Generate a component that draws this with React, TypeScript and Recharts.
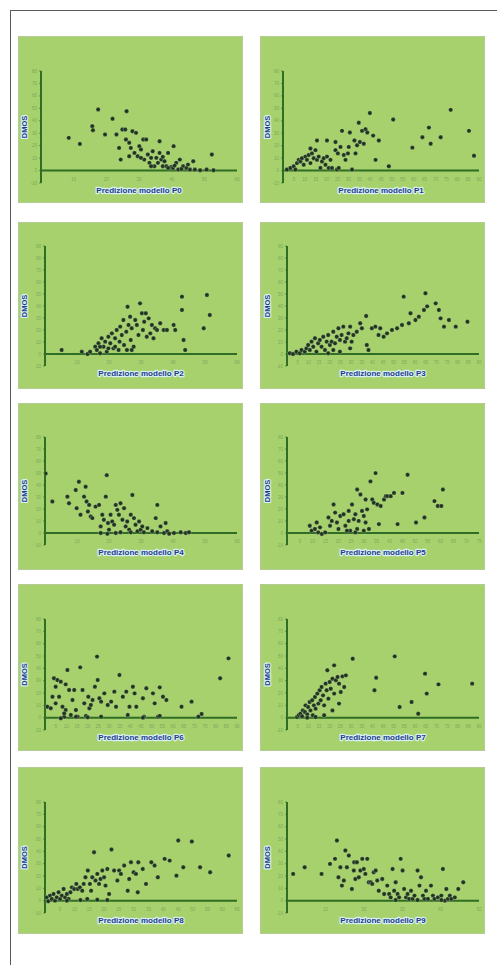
import React from 'react';
import { ScatterChart, Scatter, XAxis, YAxis, ReferenceLine } from 'recharts';

type Pt = [number, number];

// ---------- data (x = model prediction, y = DMOS) ----------
const p0Points: Pt[] = [
  [8.5, 26.3], [11.9, 21.4], [15.7, 35.7], [15.9, 32.4], [17.5, 49.1], [19.6, 29.0], [21.9, 41.6], [23.1, 29.0],
  [23.9, 18.2], [24.4, 8.8], [24.9, 33.0], [25.8, 33.0], [26.2, 47.7], [26.0, 24.9], [27.0, 22.3], [27.5, 18.2],
  [28.0, 31.6], [29.1, 30.3], [28.6, 14.2], [29.6, 11.5], [30.1, 19.6], [30.6, 16.9], [31.3, 24.9], [32.2, 24.9],
  [31.6, 8.8], [32.7, 12.9], [33.2, 6.2], [33.7, 10.2], [34.2, 15.5], [34.7, 3.5], [35.3, 10.2], [36.3, 23.6],
  [36.3, 14.2], [36.8, 8.8], [37.3, 3.5], [37.8, 7.5], [38.4, 3.5], [38.9, 14.2], [39.4, 2.1], [39.9, 2.9],
  [40.4, 2.1], [40.6, 19.6], [41.4, 6.2], [42.0, 0.8], [42.5, 8.8], [43.5, 3.5], [44.5, 2.1], [45.6, 0.8],
  [46.6, 7.5], [47.1, 0.8], [48.7, 0.3], [50.7, 0.8], [52.3, 12.9], [52.8, 0.3], [38.9, 2.1], [40.9, 4.0],
  [43.0, 1.3], [33.7, 3.5], [35.8, 6.2], [30.6, 10.2], [27.0, 11.5], [37.3, 11.0], [45.0, 4.8],
];

const p1Points: Pt[] = [
  [1.8, 0.8], [3.4, 2.1], [4.9, 3.4], [5.7, 0.8], [6.4, 6.0], [7.2, 8.6], [8.0, 7.3], [8.7, 9.9], [9.5, 4.7],
  [10.3, 11.2], [11.0, 8.6], [11.8, 12.5], [12.6, 6.0], [13.3, 13.8], [14.1, 9.9], [14.9, 16.4], [15.6, 8.6],
  [16.4, 11.2], [17.2, 2.1], [17.9, 7.3], [18.7, 9.9], [19.5, 4.7], [20.2, 11.2], [21.0, 2.1], [21.8, 8.6],
  [22.5, 2.1], [24.1, 22.9], [24.1, 16.4], [24.8, 0.8], [25.2, 13.8], [25.6, 2.1], [26.4, 19.0], [27.1, 31.9],
  [27.9, 12.5], [28.7, 8.6], [29.8, 13.8], [30.2, 19.0], [30.7, 30.6], [31.7, 0.8], [32.8, 24.2], [33.3, 13.8],
  [34.0, 20.3], [34.8, 38.4], [35.3, 22.9], [36.3, 31.9], [37.1, 21.6], [37.9, 33.2], [38.7, 30.6], [39.9, 46.2],
  [41.4, 28.1], [42.5, 8.6], [44.0, 24.2], [48.6, 3.4], [50.6, 41.0], [59.4, 18.4], [64.0, 26.8], [67.0, 34.5],
  [67.8, 21.6], [72.4, 26.8], [77.0, 48.8], [85.4, 31.9], [87.7, 11.9], [12.6, 17.7], [15.6, 24.2], [20.2, 24.2],
];

const p2Points: Pt[] = [
  [5.2, 3.3], [11.5, 1.9], [13.3, 0.0], [14.1, 1.9], [15.7, 6.1], [16.2, 3.3], [16.7, 8.9], [17.2, 0.6],
  [17.7, 13.1], [18.3, 6.1], [18.8, 10.3], [19.3, 1.9], [19.8, 14.4], [20.4, 8.9], [20.9, 17.2], [21.4, 4.7],
  [21.9, 13.1], [22.4, 20.0], [23.0, 3.3], [23.3, 10.3], [23.5, 22.8], [24.0, 15.8], [24.5, 28.3], [24.7, 7.5],
  [25.4, 18.6], [25.8, 39.4], [26.1, 24.2], [26.6, 31.1], [26.8, 11.7], [27.1, 21.4], [27.7, 6.1], [28.2, 28.3],
  [28.7, 24.2], [29.2, 15.8], [29.7, 42.2], [30.3, 33.9], [30.6, 20.0], [31.0, 26.9], [31.5, 33.9], [31.8, 14.4],
  [32.4, 29.7], [32.9, 17.2], [33.4, 24.2], [33.9, 13.1], [34.4, 21.4], [35.0, 20.0], [36.0, 25.6], [37.1, 20.0],
  [38.1, 20.0], [40.2, 24.2], [40.7, 20.0], [42.8, 47.8], [42.8, 36.7], [43.3, 11.7], [43.8, 3.3], [49.6, 21.4],
  [50.6, 49.2], [51.5, 32.5], [21.9, 6.1], [19.8, 4.7], [17.2, 6.1], [25.6, 3.3], [27.1, 3.3],
];

const p3Points: Pt[] = [
  [1.3, 0.6], [2.8, 0.0], [4.4, 1.9], [6.0, 0.6], [6.8, 3.3], [8.3, 1.9], [9.1, 4.7], [9.9, 7.5], [10.7, 3.3],
  [11.5, 10.3], [12.3, 6.1], [13.1, 13.1], [13.8, 1.9], [14.6, 8.9], [15.4, 11.7], [16.2, 6.1], [17.0, 14.4],
  [17.8, 3.3], [18.6, 10.3], [19.3, 15.8], [20.1, 7.5], [20.9, 10.3], [21.7, 18.6], [22.5, 8.9], [23.3, 14.4],
  [24.1, 21.4], [24.8, 11.7], [25.6, 15.8], [26.4, 22.8], [27.2, 10.3], [28.0, 13.1], [28.8, 17.2], [29.6, 22.8],
  [30.3, 10.3], [31.1, 15.8], [32.7, 18.6], [34.3, 25.6], [35.1, 21.4], [37.1, 31.7], [37.4, 7.5], [38.2, 3.3],
  [39.8, 21.4], [41.4, 22.8], [42.9, 15.8], [43.7, 21.4], [45.3, 14.4], [46.9, 17.2], [49.2, 20.0], [51.6, 21.4],
  [53.9, 24.2], [54.7, 47.8], [57.1, 25.6], [57.9, 33.9], [60.2, 28.3], [61.8, 31.1], [64.2, 36.7], [64.9, 50.6],
  [65.7, 39.7], [69.7, 42.2], [71.2, 36.7], [72.0, 29.7], [73.6, 22.8], [75.9, 28.3], [79.1, 22.8], [84.6, 26.9],
  [21.7, 3.3], [24.8, 1.9], [19.3, 0.6], [29.6, 4.7],
];

const p4Points: Pt[] = [
  [0.2, 49.6], [2.3, 26.2], [7.0, 30.3], [7.5, 24.8], [9.6, 35.8], [9.9, 20.7], [10.6, 42.7], [11.1, 15.2],
  [12.2, 30.3], [12.7, 38.6], [13.0, 26.2], [13.4, 17.9], [13.8, 23.4], [14.3, 13.8], [14.8, 12.4], [15.8, 22.0],
  [16.9, 23.4], [17.4, 5.5], [17.9, 15.2], [18.4, 11.0], [19.0, 30.3], [19.3, 48.2], [19.7, 8.3], [20.0, 2.8],
  [20.5, 15.2], [21.0, 9.6], [21.6, 6.9], [22.1, 23.4], [22.6, 19.3], [23.1, 15.2], [23.6, 24.8], [24.2, 11.0],
  [24.7, 20.7], [25.2, 5.5], [25.7, 9.6], [26.3, 2.8], [26.8, 15.2], [27.3, 31.7], [27.8, 12.4], [28.3, 6.9],
  [28.9, 1.4], [29.4, 9.6], [29.9, 2.8], [30.4, 5.5], [30.9, 0.6], [32.0, 4.1], [33.5, 1.4], [34.6, 12.4],
  [35.1, 23.4], [36.1, 5.5], [37.2, 0.0], [37.7, 8.3], [38.2, 1.4], [38.8, -0.6], [40.3, 0.0], [42.4, 0.6],
  [44.0, 0.0], [45.0, 0.6], [17.4, 0.0], [19.5, -0.6], [22.1, 0.0], [23.6, 0.6], [26.8, 0.6], [35.1, 0.6],
];

const p5Points: Pt[] = [
  [8.9, 6.0], [9.6, 1.9], [10.9, 3.3], [11.6, 8.8], [12.2, 0.5], [12.9, 4.7], [13.6, -0.8], [14.9, 0.5],
  [16.2, 12.9], [16.8, 6.0], [17.5, 10.1], [18.2, 23.8], [18.8, 17.0], [19.5, 8.8], [20.1, 3.3], [20.8, 14.2],
  [22.1, 15.6], [22.8, 6.0], [24.1, 10.1], [24.7, 1.9], [25.4, 23.8], [26.1, 11.5], [26.7, 15.6], [27.4, 3.3],
  [28.0, 10.1], [28.7, 32.1], [29.3, 18.4], [30.0, 14.2], [30.7, 8.8], [31.3, 19.7], [32.0, 3.3], [32.6, 43.0],
  [33.3, 27.9], [33.9, 25.2], [34.6, 49.9], [35.3, 23.8], [35.9, 7.4], [36.6, 22.5], [37.9, 27.9], [38.6, 30.7],
  [39.2, 30.7], [40.5, 30.7], [41.8, 33.4], [43.2, 7.4], [45.1, 33.4], [47.1, 48.5], [50.4, 8.8], [53.7, 12.9],
  [57.6, 26.6], [58.9, 22.5], [60.3, 22.5], [60.9, 36.2], [27.4, 36.2], [30.7, 27.9], [24.1, 18.4], [23.4, 1.9],
  [26.7, 0.5], [30.0, 1.9],
];

const p6Points: Pt[] = [
  [1.1, 8.9], [2.7, 7.6], [3.5, 17.0], [4.2, 31.9], [5.0, 25.1], [5.0, 11.6], [5.8, 30.5], [6.6, 17.0],
  [7.4, 29.2], [8.2, 8.9], [9.0, 0.8], [9.7, 6.2], [9.7, 27.0], [10.5, 38.6], [11.3, 22.4], [12.1, 2.2],
  [12.9, 14.3], [13.7, 22.4], [14.5, 6.2], [15.3, 0.8], [16.5, 40.8], [17.6, 22.4], [18.4, 11.6], [19.2, 1.4],
  [20.3, 17.0], [20.8, 7.6], [21.5, 10.3], [22.3, 14.3], [23.4, 25.1], [24.4, 49.5], [24.7, 30.5], [25.5, 15.7],
  [26.3, 13.0], [27.8, 19.7], [29.4, 10.3], [31.0, 13.0], [32.5, 21.1], [33.3, 8.9], [34.9, 34.6], [36.5, 17.0],
  [38.1, 21.1], [38.8, 2.2], [39.6, 8.9], [41.2, 25.1], [42.0, 19.7], [42.8, 8.9], [45.9, 15.7], [46.4, 0.8],
  [47.5, 23.8], [50.6, 19.7], [51.4, 11.6], [53.0, 0.8], [53.8, 24.6], [55.3, 17.0], [56.9, 14.3], [64.0, 8.9],
  [68.7, 13.0], [73.4, 3.0], [82.1, 31.9], [86.0, 48.1], [9.0, 3.5], [7.4, -0.5], [14.5, 0.8], [20.0, 0.3],
  [26.3, 0.8], [45.9, 0.0], [53.8, 1.4], [71.9, 0.8],
];

const p7Points: Pt[] = [
  [4.7, 0.5], [5.5, 1.9], [6.3, 3.2], [7.1, 1.1], [7.4, 5.9], [8.4, 4.6], [8.7, 10.0], [9.5, 2.7], [9.9, 8.6],
  [10.6, 12.7], [11.0, 5.9], [11.8, 14.1], [12.1, 1.9], [12.6, 10.0], [13.1, 16.8], [13.4, 7.3], [14.2, 19.5],
  [14.7, 11.4], [15.3, 22.2], [15.8, 14.1], [16.2, 24.9], [16.9, 18.1], [17.4, 10.0], [18.1, 27.6], [18.6, 22.2],
  [18.9, 38.4], [19.4, 15.4], [20.0, 28.9], [20.5, 23.5], [21.3, 31.6], [22.1, 19.5], [22.9, 30.3], [23.7, 33.0],
  [24.4, 27.6], [25.2, 20.8], [26.0, 33.5], [26.8, 24.9], [27.6, 34.3], [24.4, 11.4], [22.1, 42.4], [30.8, 47.8],
  [41.0, 22.2], [41.8, 32.4], [50.5, 49.7], [52.8, 8.6], [58.4, 12.7], [61.5, 3.2], [64.7, 35.7], [65.5, 19.5],
  [71.0, 27.0], [86.8, 27.6], [9.5, 0.0], [13.4, 0.5], [17.4, 1.9], [21.3, 5.9],
];

const p8Points: Pt[] = [
  [0.6, 2.7], [1.1, -0.5], [1.7, 4.1], [2.3, 1.4], [2.9, 5.4], [3.4, 0.0], [4.0, 2.7], [4.6, 6.8], [5.1, 1.4],
  [5.7, 4.1], [6.3, 9.5], [6.8, 2.7], [7.4, 5.4], [8.0, 1.4], [8.6, 6.8], [9.1, 10.8], [9.9, 9.5], [10.6, 13.6],
  [11.1, 9.5], [11.8, 10.8], [12.6, 8.1], [13.1, 13.6], [13.7, 19.0], [14.5, 24.4], [15.2, 13.6], [15.6, 8.1],
  [16.0, 19.0], [16.6, 39.3], [17.1, 16.3], [17.7, 21.7], [18.3, 13.6], [18.8, 17.6], [19.4, 24.4], [20.0, 19.0],
  [20.5, 12.2], [21.1, 25.7], [21.7, 5.4], [22.5, 41.5], [23.4, 24.4], [24.5, 16.3], [25.1, 24.4], [25.7, 21.7],
  [26.8, 28.5], [28.0, 8.1], [28.5, 17.6], [29.1, 31.2], [30.0, 23.0], [30.8, 21.7], [31.4, 6.8], [31.6, 31.2],
  [33.1, 25.7], [34.2, 13.6], [36.0, 31.2], [37.1, 28.5], [38.2, 19.0], [40.5, 33.9], [42.2, 32.5], [44.5, 20.3],
  [45.1, 48.8], [46.8, 27.1], [49.7, 48.0], [52.5, 27.1], [55.9, 23.0], [62.2, 36.6], [7.4, 0.0], [12.0, 0.5],
  [14.3, 1.4], [17.7, 0.8], [21.1, 0.5],
];

const p9Points: Pt[] = [
  [1.6, 21.7], [4.6, 27.1], [9.0, 21.7], [11.2, 29.8], [12.5, 33.9], [13.0, 48.8], [13.4, 19.0], [13.9, 27.1],
  [14.3, 12.2], [14.8, 16.3], [15.2, 40.7], [15.6, 27.1], [16.1, 36.6], [16.9, 9.5], [17.4, 24.4], [17.5, 31.2],
  [17.8, 17.6], [18.2, 31.2], [18.7, 19.0], [19.1, 24.4], [19.6, 33.9], [20.0, 25.7], [20.4, 21.7], [20.9, 33.9],
  [21.3, 14.9], [21.8, 14.9], [22.2, 13.6], [22.6, 23.0], [23.1, 24.4], [23.5, 16.3], [23.9, 8.1], [24.8, 17.6],
  [25.3, 5.4], [26.1, 12.2], [26.6, 5.4], [27.5, 25.7], [27.9, 8.1], [28.3, 14.9], [28.8, 5.4], [29.2, 2.7],
  [29.6, 33.9], [30.1, 24.4], [30.5, 9.5], [31.0, 2.7], [31.4, 5.4], [31.8, 1.4], [32.3, 8.1], [32.7, 1.4],
  [33.2, 4.1], [34.0, 24.4], [34.5, 12.2], [34.9, 19.0], [35.4, 4.1], [35.8, 1.4], [36.2, 8.1], [36.7, 1.4],
  [37.5, 12.2], [38.0, 4.1], [38.4, 1.4], [39.3, 2.7], [40.2, 4.1], [40.6, 25.7], [41.1, 0.0], [41.5, 9.5],
  [41.9, 1.4], [42.4, 4.1], [42.8, 1.4], [43.7, 2.7], [44.6, 9.5], [45.9, 14.9], [27.0, 2.7], [28.3, 0.5],
  [34.0, 0.5], [40.2, 0.5],
];

// ---------- labels & ticks ----------
const xTitles = [
  'Predizione modello P0', 'Predizione modello P1', 'Predizione modello P2', 'Predizione modello P3',
  'Predizione modello P4', 'Predizione modello P5', 'Predizione modello P6', 'Predizione modello P7',
  'Predizione modello P8', 'Predizione modello P9',
];
const yTitle = 'DMOS';

const yTicks80 = [-10, 0, 10, 20, 30, 40, 50, 60, 70, 80];
const yTicks90 = [-10, 0, 10, 20, 30, 40, 50, 60, 70, 80, 90];
const xTicks60 = [10, 20, 30, 40, 50, 60];
const xTicks90 = [5, 10, 15, 20, 25, 30, 35, 40, 45, 50, 55, 60, 65, 70, 75, 80, 85, 90];
const xTicks75 = [5, 10, 15, 20, 25, 30, 35, 40, 45, 50, 55, 60, 65, 70, 75];
const xTicks65 = [5, 10, 15, 20, 25, 30, 35, 40, 45, 50, 55, 60, 65];
const xTicks50 = [10, 20, 30, 40, 50];

// ---------- layout / style ----------
const PW = 225;
const PH = 167;
const BG = '#a7d16c';
const AXIS = '#2f6e24';
const TICK_FILL = '#7ca95c';
const DOT = '#1f3520';
const TITLE = '#1b3d8f';
const HALO = '#d9eff0';
const FONT = '"Liberation Sans", Arial, sans-serif';

const colLeft = [18, 260];
const rowTop = [36, 222, 403, 584, 767];
// per row: plot top, plot bottom, y-axis width
const rowPlot = [
  { t: 35, b: 147, w: 23 },
  { t: 24, b: 144, w: 27 },
  { t: 34, b: 142, w: 27 },
  { t: 35, b: 146, w: 27 },
  { t: 35, b: 146, w: 27 },
];

const panelData = [p0Points, p1Points, p2Points, p3Points, p4Points, p5Points, p6Points, p7Points, p8Points, p9Points];
const panelXTicks = [xTicks60, xTicks90, xTicks60, xTicks90, xTicks60, xTicks75, xTicks90, xTicks90, xTicks65, xTicks50];
const panelYTicks = [yTicks80, yTicks80, yTicks90, yTicks90, yTicks80, yTicks80, yTicks80, yTicks80, yTicks80, yTicks80];

const XTick = (props: any) => {
  const { x, y, payload } = props;
  return (
    <text x={x} y={y - 2} textAnchor="middle" fontSize={4.5} fill={TICK_FILL} fontFamily={FONT}>
      {payload.value}
    </text>
  );
};

const YTick = (props: any) => {
  const { x, y, payload } = props;
  return (
    <text x={x} y={y + 1.6} textAnchor="end" fontSize={4.5} fill={TICK_FILL} fontFamily={FONT}>
      {payload.value}
    </text>
  );
};

const Dot = (props: any) => {
  const { cx, cy } = props;
  if (cx == null || cy == null) return <g />;
  return <circle cx={cx} cy={cy} r={2.2} fill={DOT} stroke="#d3e6b6" strokeWidth={0.5} strokeOpacity={0.6} />;
};

function Panel({ idx }: { idx: number }) {
  const row = Math.floor(idx / 2);
  const col = idx % 2;
  const lay = rowPlot[row];
  const xTicks = panelXTicks[idx];
  const yTicks = panelYTicks[idx];
  const xMax = xTicks[xTicks.length - 1];
  const yMax = yTicks[yTicks.length - 1];
  const data = panelData[idx].map(([x, y]) => ({ x, y }));
  const rightM = 6;
  const plotCx = (lay.w + (PW - rightM)) / 2;
  return (
    <div
      style={{
        position: 'absolute',
        left: colLeft[col],
        top: rowTop[row],
        width: PW,
        height: PH,
        background: BG,
        boxShadow: 'inset 0 0 0 1px #b4cb93',
      }}
    >
      <ScatterChart
        width={PW}
        height={PH}
        margin={{ top: lay.t, right: rightM, bottom: PH - lay.b - 1, left: 0 }}
      >
        <XAxis
          type="number"
          dataKey="x"
          domain={[0, xMax]}
          ticks={xTicks}
          interval={0}
          height={1}
          axisLine={false}
          tickLine={false}
          tickSize={0}
          tickMargin={0}
          tick={<XTick />}
          allowDataOverflow
        />
        <YAxis
          type="number"
          dataKey="y"
          domain={[-10, yMax]}
          ticks={yTicks}
          interval={0}
          width={lay.w}
          axisLine={{ stroke: AXIS, strokeWidth: 2 }}
          tickLine={{ stroke: AXIS, strokeWidth: 0.6 }}
          tickSize={2}
          tickMargin={2}
          tick={<YTick />}
          allowDataOverflow
        />
        <ReferenceLine y={0} stroke={AXIS} strokeWidth={2} ifOverflow="extendDomain" />
        <Scatter data={data} shape={<Dot />} isAnimationActive={false} />
      </ScatterChart>
      <svg
        width={PW}
        height={PH}
        style={{ position: 'absolute', left: 0, top: 0, pointerEvents: 'none' }}
      >
        <text
          x={plotCx}
          y={lay.b + 10}
          textAnchor="middle"
          fontSize={8}
          fontWeight="bold"
          fontFamily={FONT}
          fill={TITLE}
          stroke={HALO}
          strokeWidth={2.4}
          paintOrder="stroke"
          strokeLinejoin="round"
        >
          {xTitles[idx]}
        </text>
        <text
          x={0}
          y={0}
          transform={`translate(${col === 0 ? 9 : 10}, ${(lay.t + lay.b) / 2}) rotate(-90)`}
          textAnchor="middle"
          fontSize={7.5}
          fontWeight="bold"
          fontFamily={FONT}
          fill={TITLE}
          stroke={HALO}
          strokeWidth={2.4}
          paintOrder="stroke"
          strokeLinejoin="round"
        >
          {yTitle}
        </text>
      </svg>
    </div>
  );
}

export default function App() {
  return (
    <div
      style={{
        position: 'absolute',
        left: 0,
        top: 0,
        width: 497,
        height: 965,
        background: '#ffffff',
        overflow: 'hidden',
      }}
    >
      <div
        style={{
          position: 'absolute',
          left: 10,
          top: 10,
          width: 490,
          height: 960,
          borderLeft: '1.5px solid #5a5a5a',
          borderTop: '1.5px solid #5a5a5a',
        }}
      />
      {panelData.map((_, i) => (
        <Panel key={i} idx={i} />
      ))}
    </div>
  );
}
